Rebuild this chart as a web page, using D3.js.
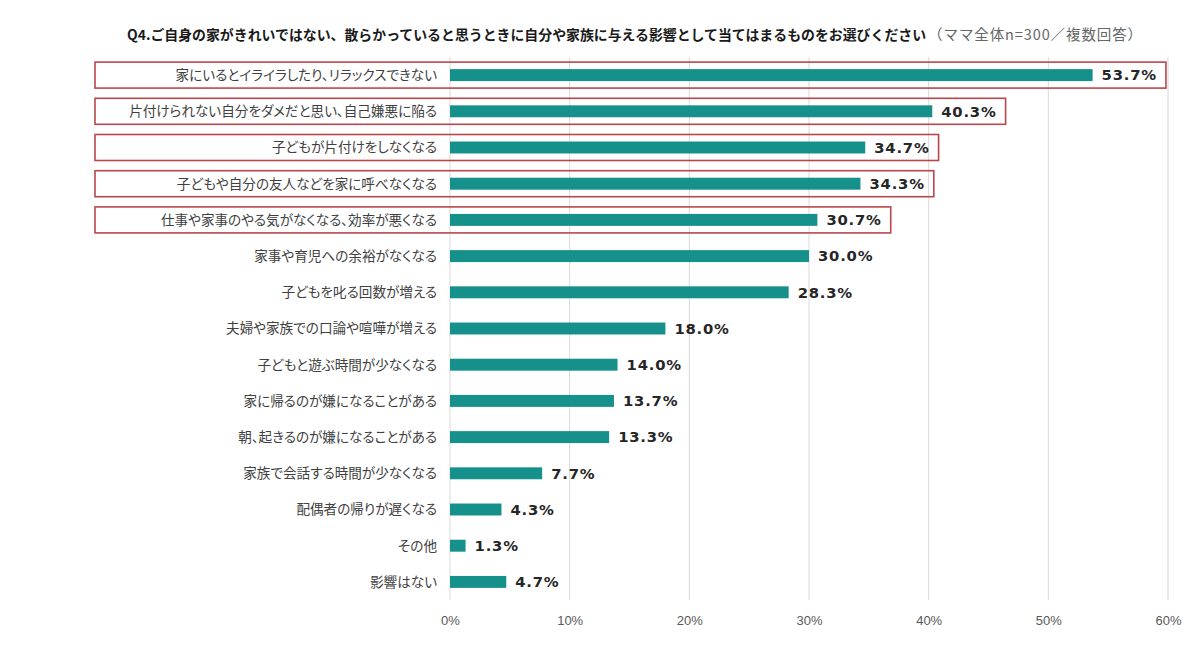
<!DOCTYPE html>
<html><head><meta charset="utf-8">
<script src="https://cdn.jsdelivr.net/npm/d3@7"></script>
<style>body{margin:0;background:#fff;}svg{display:block;}</style>
</head><body>
<svg id="c" width="1200" height="657"></svg>
<script>
const categories = [
  "家にいるとイライラしたり、リラックスできない",
  "片付けられない自分をダメだと思い、自己嫌悪に陥る",
  "子どもが片付けをしなくなる",
  "子どもや自分の友人などを家に呼べなくなる",
  "仕事や家事のやる気がなくなる、効率が悪くなる",
  "家事や育児への余裕がなくなる",
  "子どもを叱る回数が増える",
  "夫婦や家族での口論や喧嘩が増える",
  "子どもと遊ぶ時間が少なくなる",
  "家に帰るのが嫌になることがある",
  "朝、起きるのが嫌になることがある",
  "家族で会話する時間が少なくなる",
  "配偶者の帰りが遅くなる",
  "その他",
  "影響はない"
];
const values = [53.7, 40.3, 34.7, 34.3, 30.7, 30.0, 28.3, 18.0, 14.0, 13.7, 13.3, 7.7, 4.3, 1.3, 4.7];
const highlighted = [0, 1, 2, 3, 4];
const tickValues = [0, 10, 20, 30, 40, 50, 60];
const titleMain = "Q4.ご自身の家がきれいではない、散らかっていると思うときに自分や家族に与える影響として当てはまるものをお選びください";
const titleSub = "（ママ全体n=300／複数回答）";

const svg = d3.select("#c");
const x = d3.scaleLinear().domain([0, 60]).range([450, 1168]);
const y = d3.scaleBand().domain(categories).range([57, 600]).paddingInner(0.67).paddingOuter(0.335);

// title
const t = svg.append("text").attr("x", 127).attr("y", 40)
  .attr("font-family", "'Noto Sans CJK JP', sans-serif");
t.append("tspan").attr("font-weight", "bold").attr("fill", "#1a1a1a").attr("font-size", 13.9).text(titleMain);
t.append("tspan").attr("fill", "#666").attr("font-size", 14.5).attr("letter-spacing", 0.9).attr("dx", 2).text(titleSub);

// grid
svg.append("g").selectAll("line").data(tickValues).join("line")
  .attr("x1", d => x(d)).attr("x2", d => x(d))
  .attr("y1", 57).attr("y2", 600)
  .attr("stroke", "#d9d9d9").attr("stroke-width", 1);

// axis
const axis = d3.axisBottom(x).tickValues(tickValues).tickFormat(d => d + "%").tickSize(0).tickPadding(16);
const ag = svg.append("g").attr("transform", "translate(0,600)").call(axis);
ag.select(".domain").remove();
ag.selectAll("text").attr("font-family", "'Liberation Sans', Arial, sans-serif").attr("font-size", 13).attr("fill", "#595959");

const yc = d => y(d) + y.bandwidth() / 2;

// bars
svg.append("g").selectAll("rect").data(categories).join("rect")
  .attr("x", x(0)).attr("y", d => y(d))
  .attr("width", (d, i) => x(values[i]) - x(0)).attr("height", y.bandwidth())
  .attr("fill", "#16908a");

// category labels
svg.append("g").selectAll("text").data(categories).join("text")
  .attr("x", 437).attr("y", d => yc(d)).attr("dy", "0.36em")
  .attr("text-anchor", "end")
  .attr("font-family", "'Noto Sans CJK JP', sans-serif").attr("font-size", 13.6)
  .style("font-feature-settings", "'palt' 1")
  .attr("fill", "#404040").text(d => d);

// value labels
const vl = svg.append("g").selectAll("text").data(categories).join("text")
  .attr("x", (d, i) => x(values[i]) + 9).attr("y", d => yc(d)).attr("dy", "0.36em")
  .attr("font-family", "'DejaVu Sans', Verdana, sans-serif").attr("font-weight", "bold")
  .attr("font-size", 14.8).attr("letter-spacing", 0.8)
  .attr("fill", "#262626").text((d, i) => values[i].toFixed(1) + "%");

// highlight boxes
const nodes = vl.nodes();
svg.append("g").selectAll("rect").data(highlighted).join("rect")
  .attr("x", 95)
  .attr("y", i => yc(categories[i]) - 13)
  .attr("width", i => { const b = nodes[i].getBBox(); return b.x + b.width + 9 - 95; })
  .attr("height", 26)
  .attr("fill", "none").attr("stroke", "#b8474c").attr("stroke-width", 1.6);
</script>
</body></html>
